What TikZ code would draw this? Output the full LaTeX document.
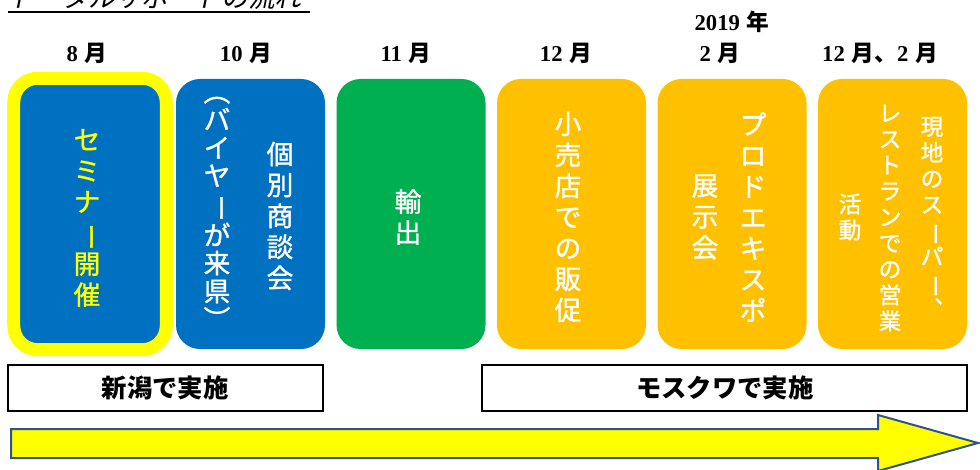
\documentclass[tikz,border=0pt]{standalone}
\usepackage{fontspec}
\setmainfont{Liberation Serif}
\newfontfamily\cjk{Noto Sans CJK JP}
\newfontfamily\cjktate{Noto Sans CJK JP}[FakeBold=1.2]
\newfontfamily\cjkslant{Noto Sans CJK JP}[FakeSlant=0.2]
\usepackage{graphicx}
\usepackage{tikz}
\definecolor{KikakuBlue}{HTML}{0070C0}
\definecolor{KikakuGreen}{HTML}{00B050}
\definecolor{KikakuOrange}{HTML}{FFC000}
\definecolor{KikakuYellow}{HTML}{FFFF00}
\definecolor{ArrowEdge}{HTML}{2F528F}
\newcommand{\tsuki}[1]{\textbf{#1}\hspace{.3em}{\cjk\bfseries 月}}
\newcommand{\nobashi}{\rotatebox[origin=c]{-90}{ー}}
\newcommand{\tenten}{\makebox[1em][l]{\hspace{.6em}\smash{\raisebox{.6em}{、}}}}

\begin{document}
\begin{tikzpicture}[x=0.75pt, y=-0.75pt,
    waku/.style={rounded corners=18pt, minimum width=111.75pt, minimum height=202.5pt, inner sep=0pt},
    tate/.style={align=center, text=white, inner sep=0pt, font=\cjktate\fontsize{20}{23.25}\selectfont},
    tatenarrow/.style={tate, font=\cjktate\fontsize{20}{21}\selectfont},
    tatesmall/.style={tate, font=\cjktate\fontsize{17}{19.5}\selectfont},
    tsukilabel/.style={inner sep=0pt, font=\fontsize{17}{20}\selectfont},
    basho/.style={draw, line width=1.5pt, minimum height=34.5pt, font=\cjk\bfseries\fontsize{19}{22}\selectfont}]
  \useasboundingbox (0,0) rectangle (980,470);

  % title (cut off at the top)
  \node[anchor=base west, inner sep=0pt, font=\cjkslant\fontsize{20}{24}\selectfont] (title) at (8,8) {トータルサポートの流れ};
  \draw[line width=1.5pt] (8,12.5) -- (310,12.5);

  % months
  \node[tsukilabel] (m1) at (87,53) {\tsuki{8}};
  \node[tsukilabel] (m2) at (246,53) {\tsuki{10}};
  \node[tsukilabel] (m3) at (406,53) {\tsuki{11}};
  \node[tsukilabel] (m4) at (566,53) {\tsuki{12}};
  \node[tsukilabel] (nen) at (732,22) {\textbf{2019}\hspace{.3em}{\cjk\bfseries 年}};
  \node[tsukilabel] (m5) at (720,53) {\tsuki{2}};
  \node[tsukilabel] (m6) at (880,53) {\tsuki{12}{\cjk\bfseries 、}\tsuki{2}};

  % boxes
  \node[waku, fill=KikakuBlue, draw=KikakuYellow, line width=9.75pt, minimum width=114.4pt, minimum height=203.6pt] (b1) at (90,214) {};
  \node[waku, fill=KikakuBlue] (b2) at (250.5,214) {};
  \node[waku, fill=KikakuGreen] (b3) at (411,214) {};
  \node[waku, fill=KikakuOrange] (b4) at (571.5,214) {};
  \node[waku, fill=KikakuOrange] (b5) at (732,214) {};
  \node[waku, fill=KikakuOrange] (b6) at (892.5,214) {};

  % vertical texts
  \node[tate, text=KikakuYellow] (t1) at (87,218) {セ\\ミ\\ナ\\\nobashi\\開\\催};
  \node[tate] (t2a) at (280,216) {個\\別\\商\\談\\会};
  \node[tatenarrow] (t2b) at (217,213) {︵\\バ\\イ\\ヤ\\\nobashi\\が\\来\\県\\︶};
  \node[tate] (t3) at (408,217) {輸\\出};
  \node[tate] (t4) at (568,217) {小\\売\\店\\で\\の\\販\\促};
  \node[tate] (t5a) at (753,217) {プ\\ロ\\ド\\エ\\キ\\ス\\ポ};
  \node[tate] (t5b) at (705,217) {展\\示\\会};
  \node[tatesmall] (t6a) at (932,217) {現\\地\\の\\ス\\\nobashi\\パ\\\nobashi\\\tenten};
  \node[tatesmall] (t6b) at (890,218) {レ\\ス\\ト\\ラ\\ン\\で\\の\\営\\業};
  \node[tatesmall] (t6c) at (850,217) {活\\動};

  % places
  \node[basho, minimum width=236.6pt] (niigata) at (165.25,388) {新潟で実施};
  \node[basho, minimum width=363.4pt] (moscow) at (724.75,388) {モスクワで実施};

  % time arrow
  \filldraw[fill=KikakuYellow, draw=ArrowEdge, line width=1.5pt] (11,429) -- (878,429) -- (878,415) -- (978,443) -- (878,471) -- (878,458) -- (11,458) -- cycle;
\end{tikzpicture}
\end{document}
